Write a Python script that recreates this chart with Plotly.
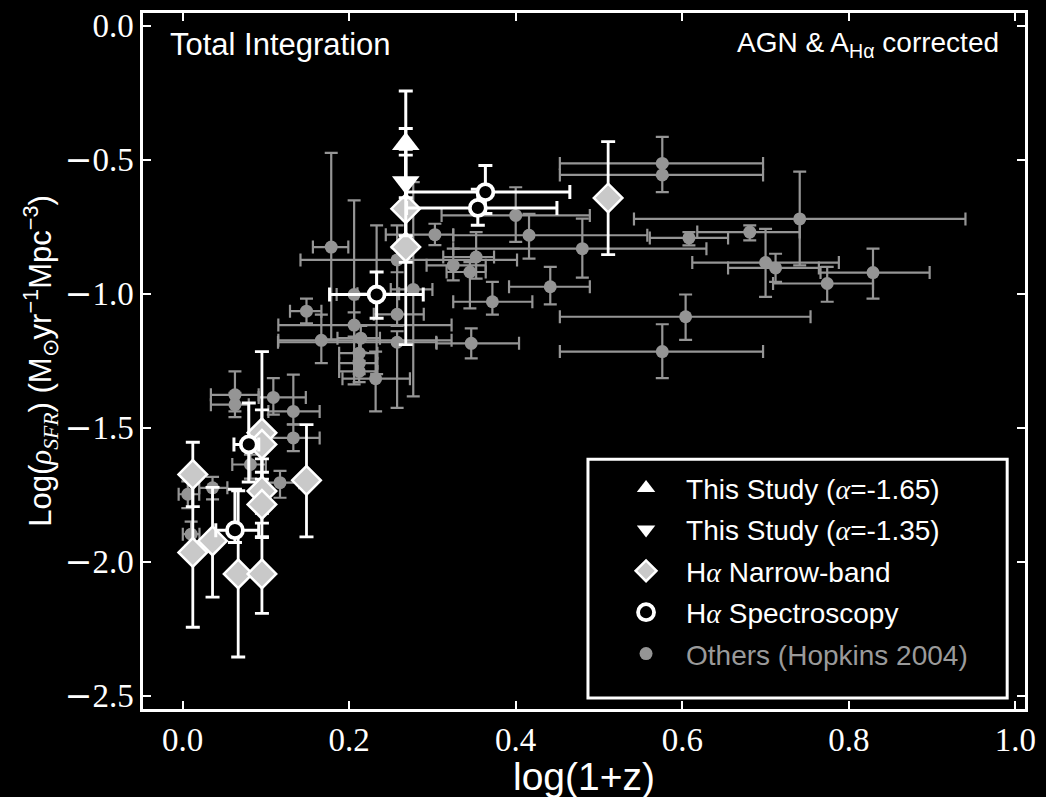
import plotly.graph_objects as go

# ---- Hopkins (2004) compilation: log(1+z), log SFR density and asymmetric errors ----
hop_x = [0.741, 0.681, 0.700, 0.712, 0.774, 0.829, 0.576, 0.576, 0.480, 0.4415,
         0.604, 0.576, 0.608, 0.400, 0.416, 0.303, 0.3525, 0.325, 0.345, 0.372,
         0.3466, 0.1785, 0.206, 0.1488, 0.1666, 0.206, 0.214, 0.212, 0.212, 0.212,
         0.2318, 0.2576, 0.2576, 0.277, 0.2576, 0.133, 0.133, 0.0629, 0.0629, 0.109,
         0.0815, 0.117, 0.036, 0.0063, 0.0103, 0.233]
hop_y = [-0.721, -0.770, -0.884, -0.904, -0.962, -0.921, -0.514, -0.557, -0.832, -0.974,
         -1.086, -1.216, -0.792, -0.708, -0.782, -0.780, -0.863, -0.894, -0.919, -1.030,
         -1.185, -0.826, -1.003, -1.065, -1.174, -1.117, -1.166, -1.222, -1.259, -1.290,
         -1.317, -1.077, -1.181, -0.984, -0.874, -1.439, -1.538, -1.377, -1.414, -1.387,
         -1.637, -1.705, -1.724, -1.748, -1.897, -1.000]
hop_xm = [0.199, 0.063, 0.088, 0.057, 0.065, 0.063, 0.123, 0.123, 0.155, 0.0495,
          0.151, 0.123, 0.047, 0.089, 0.091, 0.059, 0.0395, 0.032, 0.028, 0.047,
          0.0416, 0.022, 0.021, 0.0198, 0.0516, 0.091, 0.028, 0.024, 0.024, 0.024,
          0.0398, 0.028, 0.143, 0.027, 0.116, 0.030, 0.030, 0.0289, 0.0289, 0.0176,
          0.0218, 0.022, 0.016, 0.011, 0.010, 0.023]
hop_xp = [0.199, 0.060, 0.088, 0.052, 0.055, 0.068, 0.121, 0.121, 0.149, 0.0475,
          0.150, 0.121, 0.047, 0.089, 0.142, 0.022, 0.0215, 0.039, 0.019, 0.048,
          0.0574, 0.0205, 0.024, 0.0179, 0.1564, 0.117, 0.023, 0.022, 0.022, 0.022,
          0.0412, 0.032, 0.047, 0.023, 0.144, 0.0316, 0.0316, 0.0285, 0.0166, 0.039,
          0.0185, 0.023, 0.0178, 0.0137, 0.010, 0.027]
hop_ym = [0.173, 0.031, 0.128, 0.052, 0.068, 0.097, 0.046, 0.064, 0.108, 0.066,
          0.086, 0.099, 0.028, 0.099, 0.087, 0.039, 0.081, 0.056, 0.136, 0.048,
          0.056, 0.344, 0.335, 0.046, 0.085, 0.043, 0.054, 0.038, 0.041, 0.040,
          0.122, 0.043, 0.245, 0.399, 0.046, 0.048, 0.049, 0.062, 0.046, 0.064,
          0.053, 0.056, 0.043, 0.052, 0.043, 0.300]
hop_yp = [0.176, 0.025, 0.126, 0.053, 0.062, 0.089, 0.099, 0.042, 0.112, 0.074,
          0.083, 0.102, 0.022, 0.105, 0.080, 0.041, 0.093, 0.062, 0.037, 0.074,
          0.056, 0.351, 0.351, 0.047, 0.096, 0.047, 0.046, 0.042, 0.039, 0.040,
          0.101, 0.332, 0.041, 0.400, 0.044, 0.137, 0.050, 0.087, 0.044, 0.072,
          0.037, 0.044, 0.041, 0.048, 0.047, 0.255]

# ---- H-alpha narrow-band surveys ----
nb_x = [0.268, 0.268, 0.511, 0.0123, 0.0123, 0.036, 0.0668, 0.0953, 0.0953, 0.0953,
        0.0953, 0.0953, 0.1488]
nb_y = [-0.683, -0.826, -0.643, -1.674, -1.965, -1.922, -2.045, -2.045, -1.519, -1.562,
        -1.736, -1.786, -1.696]
nb_ym = [0.20, 0.364, 0.211, 0.12, 0.279, 0.21, 0.31, 0.147, 0.30, 0.13, 0.12, 0.12, 0.211]
nb_yp = [0.20, 0.364, 0.210, 0.12, 0.279, 0.20, 0.31, 0.135, 0.303, 0.129, 0.12, 0.12, 0.208]

# ---- H-alpha spectroscopic surveys ----
sp_x = [0.0795, 0.0629, 0.233, 0.3636, 0.3545]
sp_y = [-1.562, -1.882, -1.003, -0.621, -0.680]
sp_xm = [0.0178, 0.023, 0.0565, 0.0946, 0.0855]
sp_xp = [0.012, 0.0285, 0.056, 0.1014, 0.095]
sp_ym = [0.14, 0.046, 0.089, 0.08, 0.065]
sp_yp = [0.154, 0.153, 0.084, 0.099, 0.07]

# ---- This study (two faint-end slopes) ----
ts165_x = [0.268]
ts165_y = [-0.442]
ts165_ym = [0.20]
ts165_yp = [0.198]
ts135_x = [0.268]
ts135_y = [-0.584]
ts135_ym = [0.20]
ts135_yp = [0.20]

MINUS = "<span style=\"font-family:'DejaVu Serif'\">\u2212</span>"
x_ticks = [0.0, 0.2, 0.4, 0.6, 0.8, 1.0]
x_ticktext = ["0.0", "0.2", "0.4", "0.6", "0.8", "1.0"]
y_ticks = [0.0, -0.5, -1.0, -1.5, -2.0, -2.5]
y_ticktext = ["0.0", MINUS + "0.5", MINUS + "1.0", MINUS + "1.5", MINUS + "2.0", MINUS + "2.5"]

GRAY = "#959595"
WHITE = "#ffffff"
ALPHA = "<span style=\"font-family:'Liberation Serif'\"><i>\u03b1</i></span>"

fig = go.Figure()

fig.add_trace(go.Scatter(
    x=hop_x, y=hop_y, mode="markers",
    name="<span style=\"color:#9a9a9a\">Others (Hopkins 2004)</span>",
    marker=dict(symbol="circle", size=13, color=GRAY, line=dict(width=0)),
    error_x=dict(type="data", symmetric=False, array=hop_xp, arrayminus=hop_xm,
                 color=GRAY, thickness=2.2, width=6.5),
    error_y=dict(type="data", symmetric=False, array=hop_yp, arrayminus=hop_ym,
                 color=GRAY, thickness=2.2, width=6.5),
    legendrank=5, legendgroup="g5",
))

fig.add_trace(go.Scatter(
    x=nb_x, y=nb_y, mode="markers",
    name="H" + ALPHA + " Narrow-band",
    marker=dict(symbol="diamond", size=22, color="#c9c9c9", line=dict(width=2.5, color=WHITE)),
    error_y=dict(type="data", symmetric=False, array=nb_yp, arrayminus=nb_ym,
                 color=WHITE, thickness=2.8, width=7),
    legendrank=3, legendgroup="g3",
))

fig.add_trace(go.Scatter(
    x=sp_x, y=sp_y, mode="markers",
    name="H" + ALPHA + " Spectroscopy",
    marker=dict(symbol="circle", size=16, color="#000000", line=dict(width=3.8, color=WHITE)),
    error_x=dict(type="data", symmetric=False, array=sp_xp, arrayminus=sp_xm,
                 color=WHITE, thickness=3, width=7),
    error_y=dict(type="data", symmetric=False, array=sp_yp, arrayminus=sp_ym,
                 color=WHITE, thickness=3, width=7),
    legendrank=4, legendgroup="g4",
))

fig.add_trace(go.Scatter(
    x=ts135_x, y=ts135_y, mode="markers",
    name="This Study (" + ALPHA + "=-1.35)",
    marker=dict(symbol="triangle-down", size=24, color=WHITE, line=dict(width=0)),
    error_y=dict(type="data", symmetric=False, array=ts135_yp, arrayminus=ts135_ym,
                 color=WHITE, thickness=3, width=7),
    legendrank=2, legendgroup="g2",
))

fig.add_trace(go.Scatter(
    x=ts165_x, y=ts165_y, mode="markers",
    name="This Study (" + ALPHA + "=-1.65)",
    marker=dict(symbol="triangle-up", size=24, color=WHITE, line=dict(width=0)),
    error_y=dict(type="data", symmetric=False, array=ts165_yp, arrayminus=ts165_ym,
                 color=WHITE, thickness=3, width=7),
    legendrank=1, legendgroup="g1",
))

axis_common = dict(
    showline=True, linecolor=WHITE, linewidth=2.5, mirror="allticks",
    ticks="inside", ticklen=8, tickwidth=2, tickcolor=WHITE,
    showgrid=False, zeroline=False,
    tickfont=dict(family="Liberation Serif", size=33, color=WHITE),
)

fig.update_layout(
    width=1046, height=797,
    margin=dict(l=143, r=11, t=10, b=88),
    paper_bgcolor="black", plot_bgcolor="black",
    xaxis=dict(range=[-0.0475, 1.0115], tickvals=x_ticks, ticktext=x_ticktext, **axis_common),
    yaxis=dict(
        range=[-2.549, 0.047], tickvals=y_ticks, ticktext=y_ticktext,
        title=dict(
            text="Log(<span style=\"font-family:'Liberation Serif'\"><i>\u03c1<sub>SFR</sub></i></span>)"
                 " (M<sub>\u2299</sub>yr<sup>\u22121</sup>Mpc<sup>\u22123</sup>)",
            font=dict(family="Liberation Sans", size=31, color=WHITE),
            standoff=4,
        ),
        automargin=False,
        **axis_common,
    ),
    showlegend=True,
    legend=dict(
        x=0.525, y=0.353, xanchor="left", yanchor="top",
        bgcolor="rgba(0,0,0,0)", borderwidth=0,
        font=dict(family="Liberation Sans", size=28, color=WHITE),
        itemwidth=70, tracegroupgap=2, traceorder="grouped",
    ),
    shapes=[dict(
        type="rect", xref="paper", yref="paper",
        x0=0.5045, x1=0.9798, y0=0.0157, y1=0.359,
        line=dict(color=WHITE, width=3), fillcolor="black", layer="above",
    )],
    annotations=[
        dict(text="Total Integration", xref="paper", yref="paper", x=0.028, y=0.955,
             xanchor="left", yanchor="middle", showarrow=False,
             font=dict(family="Liberation Sans", size=31, color=WHITE)),
        dict(text="AGN &amp; A<sub>H\u03b1</sub> corrected", xref="paper", yref="paper",
             x=0.973, y=0.955, xanchor="right", yanchor="middle", showarrow=False,
             font=dict(family="Liberation Sans", size=28, color=WHITE)),
        dict(text="log(1+z)", xref="paper", yref="paper", x=0.5, y=-0.097,
             xanchor="center", yanchor="middle", showarrow=False,
             font=dict(family="Liberation Sans", size=39, color=WHITE)),
    ],
)

fig.write_html("out.html")
